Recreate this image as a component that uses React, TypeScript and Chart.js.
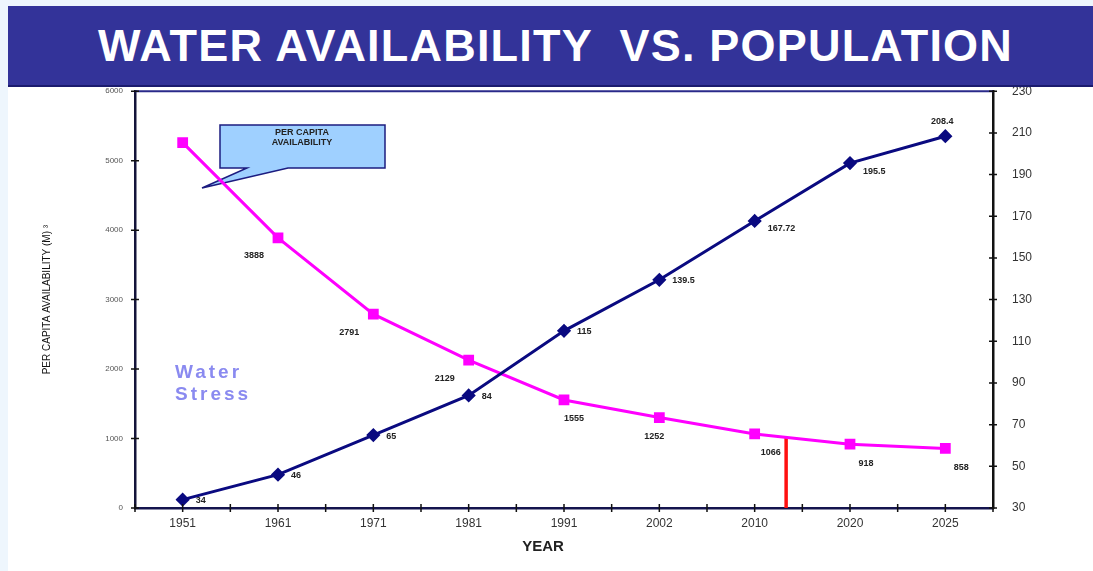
import React, { useEffect, useRef } from "react";
import { Chart, registerables } from "chart.js";

Chart.register(...registerables);

const years = ["1951", "1961", "1971", "1981", "1991", "2002", "2010", "2020", "2025"];
const perCapita = [5260, 3888, 2791, 2129, 1555, 1302, 1066, 918, 858];
const perCapitaLabels = ["", "3888", "2791", "2129", "1555", "1252", "1066", "918", "858"];
const population = [34, 46, 65, 84, 115, 139.5, 167.72, 195.5, 208.4];
const populationLabels = ["34", "46", "65", "84", "115", "139.5", "167.72", "195.5", "208.4"];
const stressIndex = 6.33;
const stressValue = 1020;
const leftTicks = [0, 1000, 2000, 3000, 4000, 5000, 6000];
const rightTicks = [30, 50, 70, 90, 110, 130, 150, 170, 190, 210, 230];

const overlay = {
  id: "overlay",
  beforeDatasetsDraw(chart: any) {
    const ctx = chart.ctx;
    const a = chart.chartArea;
    ctx.save();
    // top border
    ctx.strokeStyle = "#2a2a8a";
    ctx.lineWidth = 2;
    ctx.beginPath();
    ctx.moveTo(a.left, a.top);
    ctx.lineTo(a.right, a.top);
    ctx.stroke();
    // callout
    const oy = 15;
    ctx.fillStyle = "#9fd0ff";
    ctx.strokeStyle = "#1c1c80";
    ctx.lineWidth = 1.5;
    ctx.beginPath();
    ctx.moveTo(212, 45 + oy);
    ctx.lineTo(377, 45 + oy);
    ctx.lineTo(377, 88 + oy);
    ctx.lineTo(280, 88 + oy);
    ctx.lineTo(194, 108 + oy);
    ctx.lineTo(239, 88 + oy);
    ctx.lineTo(212, 88 + oy);
    ctx.closePath();
    ctx.fill();
    ctx.stroke();
    ctx.fillStyle = "#222";
    ctx.font = "bold 9px Arial";
    ctx.textAlign = "center";
    ctx.textBaseline = "middle";
    ctx.fillText("PER CAPITA", 294, 53 + oy);
    ctx.fillText("AVAILABILITY", 294, 63 + oy);
    // water stress
    ctx.fillStyle = "#8a8af0";
    ctx.font = "bold 19px Arial";
    (ctx as any).letterSpacing = "3px";
    ctx.textAlign = "left";
    ctx.fillText("Water", 167, 293 + oy);
    ctx.fillText("Stress", 167, 315 + oy);
    (ctx as any).letterSpacing = "0px";
    // axis title YEAR
    ctx.fillStyle = "#222";
    ctx.font = "bold 15px Arial";
    ctx.textAlign = "center";
    ctx.fillText("YEAR", (a.left + a.right) / 2 - 21, a.bottom + 39);
    ctx.restore();
  },
  afterDatasetsDraw(chart: any) {
    const ctx = chart.ctx;
    const a = chart.chartArea;
    const xs = chart.scales.x2;
    const y = chart.scales.y;
    const y2 = chart.scales.y2;
    ctx.save();
    ctx.strokeStyle = "#111";
    ctx.lineWidth = 1.5;
    ctx.beginPath();
    for (let i = -0.5; i <= 8.5; i += 0.5) {
      const px = xs.getPixelForValue(i);
      ctx.moveTo(px, a.bottom - 4);
      ctx.lineTo(px, a.bottom + 4);
    }
    leftTicks.forEach((v) => {
      const py = y.getPixelForValue(v);
      ctx.moveTo(a.left - 4, py);
      ctx.lineTo(a.left + 4, py);
    });
    rightTicks.forEach((v) => {
      const py = y2.getPixelForValue(v);
      ctx.moveTo(a.right - 4, py);
      ctx.lineTo(a.right + 4, py);
    });
    ctx.stroke();

    // data labels
    ctx.fillStyle = "#222";
    ctx.font = "bold 9px Arial";
    ctx.textBaseline = "middle";
    const pinkMeta = chart.getDatasetMeta(1);
    pinkMeta.data.forEach((pt: any, i: number) => {
      const t = perCapitaLabels[i];
      if (!t) return;
      ctx.textAlign = "center";
      if (i < 4) {
        ctx.fillText(t, pt.x - 24, pt.y + 18);
      } else {
        ctx.fillText(t, pt.x + (i === 4 ? 10 : i === 5 ? -5 : 16), pt.y + 19);
      }
    });
    const navyMeta = chart.getDatasetMeta(0);
    navyMeta.data.forEach((pt: any, i: number) => {
      const t = populationLabels[i];
      if (i === populationLabels.length - 1) {
        ctx.textAlign = "center";
        ctx.fillText(t, pt.x - 3, pt.y - 15);
      } else {
        ctx.textAlign = "left";
        ctx.fillText(t, pt.x + 13, pt.y + (i >= 6 ? 8 : 1));
      }
    });
    ctx.restore();
  },
};

export default function App() {
  const ref = useRef<HTMLCanvasElement>(null);
  useEffect(() => {
    if (!ref.current) return;
    const chart = new Chart(ref.current, {
      type: "line",
      data: {
        labels: years,
        datasets: [
          {
            label: "Population",
            data: population,
            yAxisID: "y2",
            xAxisID: "x",
            borderColor: "#0a0a80",
            backgroundColor: "#0a0a80",
            borderWidth: 3,
            pointStyle: "rectRot",
            pointRadius: 5,
            order: 1,
          },
          {
            label: "Per capita",
            data: perCapita,
            yAxisID: "y",
            xAxisID: "x",
            borderColor: "#ff00ff",
            backgroundColor: "#ff00ff",
            borderWidth: 3,
            pointStyle: "rect",
            pointRadius: 5.5,
            order: 2,
          },
          {
            label: "Stress",
            data: [
              { x: stressIndex, y: 0 },
              { x: stressIndex, y: stressValue },
            ],
            yAxisID: "y",
            xAxisID: "x2",
            borderColor: "#ff1010",
            borderWidth: 3.5,
            pointRadius: 0,
            order: 3,
          },
        ],
      },
      options: {
        animation: false,
        responsive: false,
        layout: { padding: { top: 10, bottom: 0, left: 0, right: 0 } },
        plugins: { legend: { display: false }, tooltip: { enabled: false } },
        scales: {
          x: {
            type: "category",
            offset: true,
            grid: { display: false, drawTicks: false },
            border: { display: true, color: "#14144e", width: 2.5 },
            ticks: { color: "#333", font: { family: "Arial", size: 12 }, padding: 8, maxRotation: 0 },
            afterFit: (s: any) => {
              s.height = 63;
            },
          },
          x2: {
            type: "linear",
            display: false,
            min: -0.5,
            max: 8.5,
          },
          y: {
            type: "linear",
            position: "left",
            min: 0,
            max: 6000,
            grid: { display: false, drawTicks: false },
            border: { display: true, color: "#14143a", width: 2.5 },
            ticks: {
              stepSize: 1000,
              color: "#555",
              font: { family: "Arial", size: 8 },
              padding: 12,
              callback: (v: any) => String(v),
            },
            title: {
              display: true,
              text: "PER CAPITA AVAILABILITY (M) ³",
              color: "#111",
              font: { family: "Arial", size: 10 },
              padding: { top: 33, bottom: 0 },
            },
            afterFit: (s: any) => {
              s.width = 127;
            },
          },
          y2: {
            type: "linear",
            position: "right",
            min: 30,
            max: 230,
            grid: { display: false, drawTicks: false },
            border: { display: true, color: "#111", width: 2.5 },
            ticks: { stepSize: 20, color: "#333", font: { family: "Arial", size: 12 }, padding: 19 },
            afterFit: (s: any) => {
              s.width = 100;
            },
          },
        },
      },
      plugins: [overlay],
    } as any);
    return () => chart.destroy();
  }, []);

  return (
    <div
      style={{
        position: "absolute",
        left: 0,
        top: 0,
        width: 1093,
        height: 571,
        background: "#eef6fd",
        overflow: "hidden",
      }}
    >
      <div style={{ position: "absolute", left: 8, top: 65, width: 1085, height: 506, background: "#fff" }}>
        <canvas ref={ref} width={1085} height={506} style={{ display: "block" }} />
      </div>
      <div
        style={{
          position: "absolute",
          left: 8,
          top: 6,
          width: 1085,
          height: 79,
          background: "#333399",
          borderBottom: "2px solid #1b1b6e",
          display: "flex",
          alignItems: "center",
          justifyContent: "center",
          color: "#fff",
          fontFamily: "Arial, 'Liberation Sans', sans-serif",
          fontWeight: "bold",
          fontSize: 45,
          letterSpacing: 1.2,
          whiteSpace: "pre",
          zIndex: 2,
        }}
      >
        <span style={{ marginLeft: 10 }}>WATER AVAILABILITY  VS. POPULATION</span>
      </div>
    </div>
  );
}
